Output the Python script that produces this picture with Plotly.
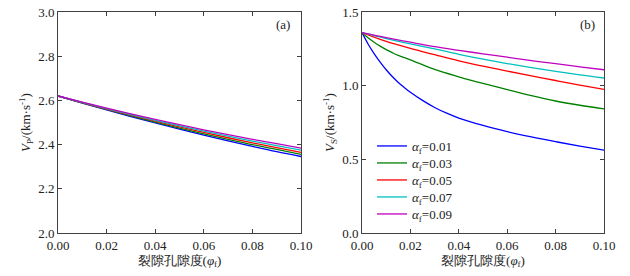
import plotly.graph_objects as go

# ---- data ----
phi = [0.0, 0.01, 0.02, 0.03, 0.04, 0.05, 0.06, 0.07, 0.08, 0.09, 0.10]
vp_001 = [2.620, 2.588, 2.557, 2.527, 2.498, 2.470, 2.443, 2.417, 2.392, 2.368, 2.346]
vp_003 = [2.620, 2.589, 2.559, 2.530, 2.502, 2.475, 2.449, 2.424, 2.400, 2.378, 2.356]
vp_005 = [2.620, 2.590, 2.561, 2.533, 2.506, 2.480, 2.455, 2.431, 2.408, 2.386, 2.365]
vp_007 = [2.620, 2.591, 2.563, 2.536, 2.510, 2.485, 2.461, 2.438, 2.416, 2.395, 2.375]
vp_009 = [2.620, 2.592, 2.565, 2.539, 2.514, 2.490, 2.467, 2.445, 2.424, 2.404, 2.384]

phi_b = [0.0, 0.0025, 0.005, 0.0075, 0.01, 0.0125, 0.015, 0.0175, 0.02, 0.025, 0.03, 0.035, 0.04,
         0.05, 0.06, 0.07, 0.08, 0.09, 0.10]
vs_001 = [1.36, 1.283, 1.218, 1.16, 1.108, 1.062, 1.022, 0.987, 0.955, 0.90, 0.852, 0.813, 0.78,
          0.73, 0.688, 0.652, 0.62, 0.59, 0.562]
phi_g = [0.0, 0.0025, 0.005, 0.0075, 0.01, 0.0125, 0.015, 0.02, 0.03, 0.04, 0.05, 0.06, 0.07, 0.08, 0.09, 0.10]
vs_003 = [1.36, 1.325, 1.295, 1.268, 1.245, 1.224, 1.205, 1.175, 1.11, 1.06, 1.015, 0.973, 0.932, 0.896, 0.867, 0.842]
vs_005 = [1.36, 1.30, 1.253, 1.21, 1.168, 1.132, 1.099, 1.066, 1.035, 1.004, 0.975]
vs_007 = [1.36, 1.32, 1.284, 1.25, 1.213, 1.18, 1.15, 1.122, 1.097, 1.073, 1.052]
vs_009 = [1.36, 1.326, 1.295, 1.265, 1.24, 1.216, 1.193, 1.17, 1.149, 1.128, 1.108]

labels = ["0.01", "0.03", "0.05", "0.07", "0.09"]
colors = ["#0000ff", "#008000", "#ff0000", "#00bfbf", "#bf00bf"]
x_ticks = [0.0, 0.02, 0.04, 0.06, 0.08, 0.10]

# ---- figure ----
fig = go.Figure()
FONT = "Liberation Serif"
W, H = 630, 276

for ys, c in zip([vp_001, vp_003, vp_005, vp_007, vp_009], colors):
    fig.add_trace(go.Scatter(x=phi, y=ys, mode="lines", line=dict(color=c, width=1.3, shape="spline"),
                             showlegend=False, xaxis="x", yaxis="y"))

legend_names = ["legend", "legend2", "legend3", "legend4", "legend5"]
legend_cy = [146, 163, 180, 197, 214]  # pixel centres of legend rows
vs_x = [phi_b, phi_g, phi, phi, phi]
for xs, ys, c, lab, lg in zip(vs_x, [vs_001, vs_003, vs_005, vs_007, vs_009], colors, labels, legend_names):
    fig.add_trace(go.Scatter(x=xs, y=ys, mode="lines", line=dict(color=c, width=1.3, shape="spline"),
                             name=f"<i>α</i><sub>f</sub>={lab}", xaxis="x2", yaxis="y2", legend=lg))

axis_common = dict(showline=True, mirror="ticks", linecolor="#404040", linewidth=1, automargin=False,
                   ticks="inside", ticklen=4, tickcolor="#404040", showgrid=False, zeroline=False,
                   tickfont=dict(family=FONT, size=13, color="#222"))
xt = "裂隙孔隙度(<i>φ</i><sub>f</sub>)"

legend_layout = {}
for lg, cy in zip(legend_names, legend_cy):
    legend_layout[lg] = dict(x=372 / W, y=1 - cy / H, xanchor="left", yanchor="middle",
                             bgcolor="rgba(0,0,0,0)", font=dict(family=FONT, size=13),
                             itemwidth=30, borderwidth=0)

fig.update_layout(
    width=W, height=H,
    margin=dict(l=0, r=0, t=0, b=0, autoexpand=False),
    paper_bgcolor="white", plot_bgcolor="white",
    font=dict(family=FONT, size=13, color="#222"),
    xaxis=dict(domain=[58 / W, 301 / W], range=[0, 0.1], tickvals=x_ticks, tickformat=".2f",
               title=dict(text=xt, standoff=2, font=dict(size=13)), anchor="y", **axis_common),
    yaxis=dict(domain=[1 - 233 / H, 1 - 12 / H], range=[2.0, 3.0], dtick=0.2, tickformat=".1f",
               title=dict(text="<i>V</i><sub>P</sub>/(km·s<sup>-1</sup>)", standoff=4, font=dict(size=13)),
               anchor="x", **axis_common),
    xaxis2=dict(domain=[362 / W, 604 / W], range=[0, 0.1], tickvals=x_ticks, tickformat=".2f",
                title=dict(text=xt, standoff=2, font=dict(size=13)), anchor="y2", **axis_common),
    yaxis2=dict(domain=[1 - 233 / H, 1 - 12 / H], range=[0, 1.5], dtick=0.5, tickformat=".1f",
                title=dict(text="<i>V</i><sub>S</sub>/(km·s<sup>-1</sup>)", standoff=4, font=dict(size=13)),
                anchor="x2", **axis_common),
    annotations=[
        dict(text="(a)", x=292 / W, y=1 - 25 / H, xref="paper", yref="paper", showarrow=False,
             xanchor="right", yanchor="middle", font=dict(family=FONT, size=13)),
        dict(text="(b)", x=597 / W, y=1 - 25 / H, xref="paper", yref="paper", showarrow=False,
             xanchor="right", yanchor="middle", font=dict(family=FONT, size=13)),
    ],
    **legend_layout,
)

fig.write_html("out.html", config={"displayModeBar": False},
               post_script="document.body.style.margin='0';")
